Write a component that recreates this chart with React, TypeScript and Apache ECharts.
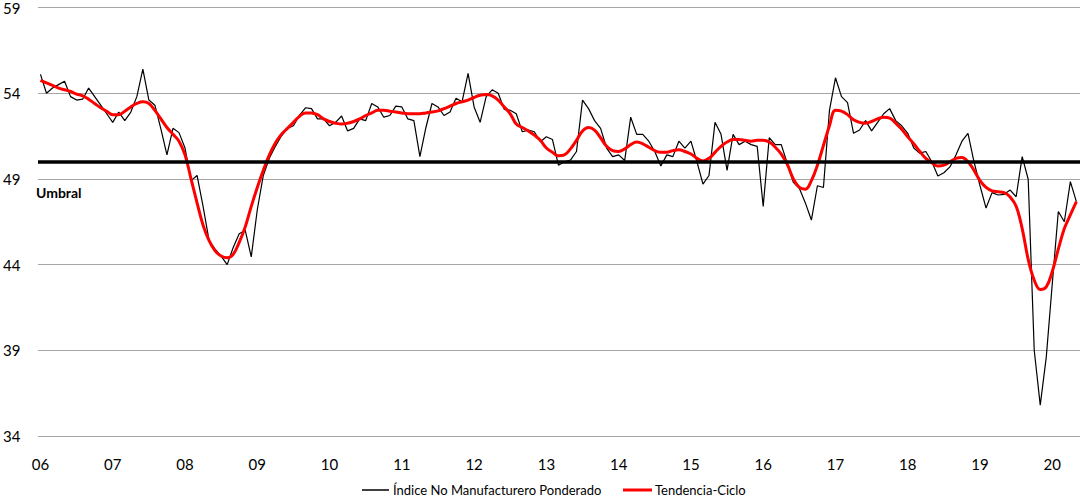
import React, { useEffect, useRef } from "react";
import * as echarts from "echarts";

// Monthly series, Jan 2006 .. May 2020
const indiceNoManufacturero: number[] = [
  // 2006
  55.1, 54.0, 54.3, 54.5, 54.7, 53.8, 53.6, 53.65, 54.3, 53.8, 53.3, 52.8,
  // 2007
  52.3, 52.9, 52.4, 52.9, 53.8, 55.4, 53.6, 53.3, 51.9, 50.4, 51.95, 51.7,
  // 2008
  50.8, 48.9, 49.2, 47.4, 45.4, 44.9, 44.5, 44.0, 45.0, 45.8, 46.0, 44.45,
  // 2009
  47.2, 49.2, 50.2, 50.9, 51.5, 51.95, 52.1, 52.7, 53.15, 53.1, 52.5, 52.5,
  // 2010
  52.1, 52.3, 52.67, 51.8, 51.95, 52.5, 52.4, 53.4, 53.2, 52.6, 52.7, 53.25,
  // 2011
  53.2, 52.5, 52.4, 50.3, 52.0, 53.4, 53.2, 52.7, 52.9, 53.7, 53.5, 55.16,
  // 2012
  53.2, 52.3, 53.8, 54.2, 54.0, 53.06, 53.0, 52.8, 51.75, 51.85, 51.75, 51.17,
  // 2013
  51.46, 51.3, 49.8, 50.0, 50.1, 50.6, 53.6, 53.1, 52.4, 51.95, 50.8, 50.3,
  // 2014
  50.4, 50.07, 52.6, 51.6, 51.6, 51.2, 50.6, 49.75, 50.4, 50.3, 51.2, 50.8,
  // 2015
  51.2, 50.0, 48.7, 49.2, 52.3, 51.6, 49.5, 51.6, 51.0, 51.2, 51.0, 50.9,
  // 2016
  47.4, 51.4, 51.0, 51.0, 49.9, 48.8, 48.45, 47.6, 46.6, 48.6, 48.5, 53.0,
  // 2017
  54.9, 53.8, 53.45, 51.66, 51.85, 52.4, 51.8, 52.3, 52.8, 53.1, 52.4, 52.1,
  // 2018
  51.66, 50.8, 50.5, 50.6, 50.0, 49.17, 49.36, 49.7, 50.4, 51.2, 51.66, 50.0,
  // 2019
  48.6, 47.3, 48.2, 48.06, 48.1, 48.35, 47.96, 50.3, 48.98, 39.0, 35.8, 38.6,
  // 2020
  42.9, 47.1, 46.5, 48.84, 47.67,
];

const tendenciaCiclo: number[] = [
  // 2006
  54.75, 54.6, 54.45, 54.3, 54.2, 54.1, 53.95, 53.85, 53.65, 53.4, 53.15, 52.95,
  // 2007
  52.75, 52.75, 52.95, 53.2, 53.4, 53.5, 53.4, 53.0, 52.5, 52.0, 51.6, 51.2,
  // 2008
  50.4, 49.0, 47.6, 46.3, 45.4, 44.8, 44.5, 44.4, 44.6, 45.3, 46.2, 47.4,
  // 2009
  48.5, 49.5, 50.4, 51.1, 51.6, 51.95, 52.3, 52.65, 52.85, 52.85, 52.75, 52.5,
  // 2010
  52.35, 52.25, 52.2, 52.25, 52.35, 52.5, 52.7, 52.85, 53.0, 53.0, 52.95, 52.9,
  // 2011
  52.85, 52.8, 52.8, 52.8, 52.85, 52.9, 52.97, 53.1, 53.25, 53.4, 53.5, 53.6,
  // 2012
  53.75, 53.88, 53.92, 53.85, 53.6, 53.2, 52.8, 52.2, 52.0, 51.8, 51.55, 51.25,
  // 2013
  50.8, 50.55, 50.35, 50.4, 50.75, 51.25, 51.8, 52.0, 51.85, 51.4, 50.9, 50.65,
  // 2014
  50.6, 50.75, 51.0, 51.15, 51.05, 50.85, 50.65, 50.55, 50.55, 50.65, 50.7, 50.6,
  // 2015
  50.45, 50.2, 50.05, 50.2, 50.55, 50.9, 51.15, 51.3, 51.3, 51.25, 51.2, 51.25,
  // 2016
  51.25, 51.15, 50.85, 50.45, 49.85, 49.0, 48.5, 48.4, 48.9, 49.8, 50.95, 52.1,
  // 2017
  53.0, 52.95, 52.75, 52.45, 52.3, 52.25, 52.35, 52.5, 52.6, 52.55, 52.25, 51.9,
  // 2018
  51.45, 51.05, 50.6, 50.2, 49.95, 49.75, 49.8, 50.0, 50.2, 50.25, 50.0, 49.5,
  // 2019
  48.9, 48.5, 48.3, 48.25, 48.2, 47.95, 47.4, 46.1, 44.3, 43.1, 42.55, 42.7,
  // 2020
  43.6, 44.9, 46.1, 46.9, 47.67,
];

const yearLabels: string[] = [
  "06", "07", "08", "09", "10", "11", "12", "13", "14", "15", "16", "17", "18", "19", "20",
];
const yTicks: number[] = [34, 39, 44, 49, 54, 59];
const umbral = 50;

const seriesNames = ["Índice No Manufacturero Ponderado", "Tendencia-Ciclo"];
const seriesColors = ["#000000", "#ff0000"];

const FONT = "Lato, 'Open Sans', sans-serif";

export default function App() {
  const ref = useRef<HTMLDivElement>(null);

  useEffect(() => {
    if (!ref.current) return;
    const chart = echarts.init(ref.current, null, { renderer: "svg" });

    const yearTickIdx = yearLabels.map((_, i) => i * 12);
    const blackData = indiceNoManufacturero.map((v, i) => [i, v]);
    const redData = tendenciaCiclo.map((v, i) => [i, v]);

    const legendY = 490;

    chart.setOption({
      animation: false,
      backgroundColor: "#ffffff",
      textStyle: { fontFamily: FONT },
      grid: { left: 35, right: 0, top: 7.5, bottom: 63, containLabel: false },
      xAxis: {
        type: "value",
        min: -0.41,
        max: 172.6,
        axisLine: { show: false },
        axisTick: { show: false, customValues: yearTickIdx },
        splitLine: { show: false },
        axisLabel: {
          customValues: yearTickIdx,
          formatter: (v: number) => yearLabels[Math.round(v / 12)] ?? "",
          color: "#000",
          fontSize: 15,
          fontFamily: FONT,
          margin: 20,
        },
      },
      yAxis: {
        type: "value",
        min: 34,
        max: 59,
        axisLine: { show: false },
        axisTick: { show: false, customValues: yTicks },
        splitLine: { show: true, lineStyle: { color: "#a6a6a6", width: 1 } },
        axisLabel: {
          customValues: yTicks,
          color: "#000",
          fontSize: 15,
          fontFamily: FONT,
          align: "left",
          margin: 35,
        },
      },
      graphic: [
        {
          type: "text",
          left: 36,
          top: 185,
          style: {
            text: "Umbral",
            font: `bold 14px ${FONT}`,
            fill: "#000",
          },
        },
        {
          type: "line",
          shape: { x1: 362, y1: legendY, x2: 389, y2: legendY },
          style: { stroke: seriesColors[0], lineWidth: 1.5 },
        },
        {
          type: "text",
          x: 393,
          y: legendY,
          style: {
            text: seriesNames[0],
            font: `13px ${FONT}`,
            fill: "#000",
            verticalAlign: "middle",
          },
        },
        {
          type: "line",
          shape: { x1: 623, y1: legendY, x2: 652, y2: legendY },
          style: { stroke: seriesColors[1], lineWidth: 3 },
        },
        {
          type: "text",
          x: 655,
          y: legendY,
          style: {
            text: seriesNames[1],
            font: `13px ${FONT}`,
            fill: "#000",
            verticalAlign: "middle",
          },
        },
      ],
      series: [
        {
          name: seriesNames[0],
          type: "line",
          data: blackData,
          symbol: "none",
          lineStyle: { color: seriesColors[0], width: 1.2 },
          itemStyle: { color: seriesColors[0] },
          z: 3,
          markLine: {
            silent: true,
            symbol: "none",
            label: { show: false },
            lineStyle: { color: "#000", width: 3.5, type: "solid" },
            data: [{ yAxis: umbral }],
          },
        },
        {
          name: seriesNames[1],
          type: "line",
          data: redData,
          symbol: "none",
          smooth: 0.4,
          lineStyle: { color: seriesColors[1], width: 3 },
          itemStyle: { color: seriesColors[1] },
          z: 4,
        },
      ],
    });

    return () => chart.dispose();
  }, []);

  return (
    <div
      ref={ref}
      style={{ position: "absolute", left: 0, top: 0, width: 1080, height: 499 }}
    />
  );
}
